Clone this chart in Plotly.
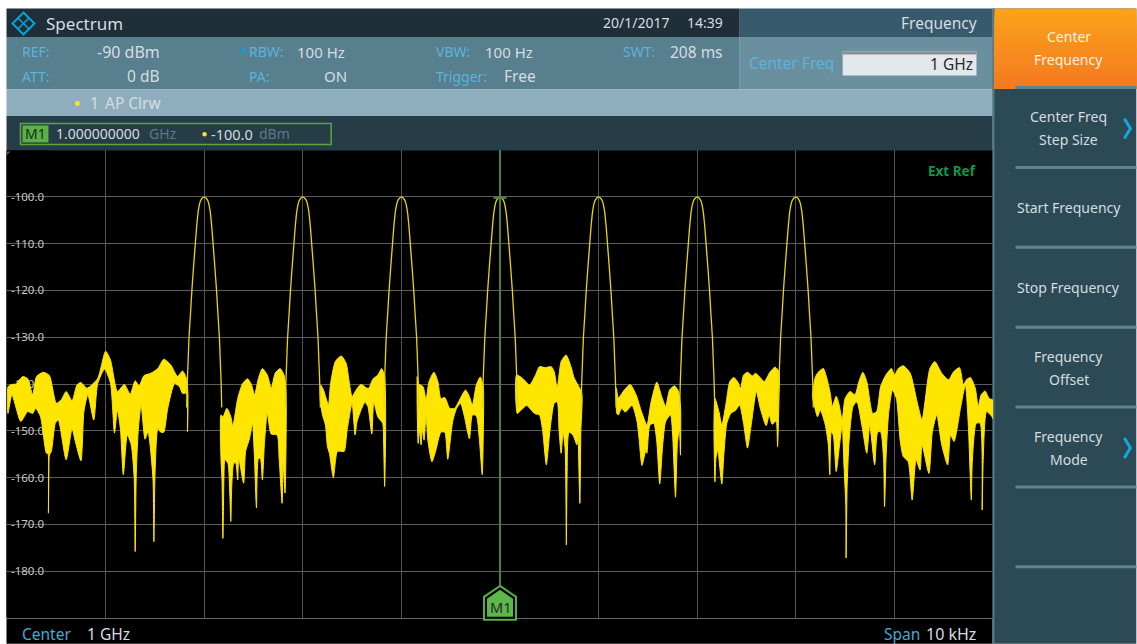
import plotly.graph_objects as go

# ---------- data (frequency offset from centre in kHz, level in dBm) ----------
X_GRID_KHZ = [-4, -3, -2, -1, 0, 1, 2, 3, 4]
Y_TICKS = [-100, -110, -120, -130, -140, -150, -160, -170, -180]
Y_TICK_LABELS = ["-100.0", "-110.0", "-120.0", "-130.0", "-140.0", "-150.0", "-160.0", "-170.0", "-180.0"]
PEAK_CENTRES = [-3, -2, -1, 0, 1, 2, 3]
PEAK_DX = [0, .02, .04, .06, .075, .09, .108, .125, .139, .154, .163, .172, .178]
PEAK_DB = [-100, -100.3, -101, -103, -106, -110, -115, -120, -125, -130, -135, -140, -145]
MARKER_KHZ = 0

GAP1_TOP = [(-4.99,-140.6),(-4.95,-140.1),(-4.91,-140),(-4.84,-138.4),(-4.79,-138.9),(-4.74,-142.3),(-4.70,-138.4),(-4.63,-137.5),(-4.57,-138.2),(-4.50,-144.1),(-4.45,-143.4),(-4.40,-141.6),(-4.34,-143.6),(-4.29,-140.2),(-4.25,-139.7),(-4.19,-140.9),(-4.08,-138.8),(-4.00,-133),(-3.95,-134.9),(-3.88,-141.6),(-3.81,-140.1),(-3.75,-142.2),(-3.70,-139.3),(-3.66,-140.4),(-3.61,-138.2),(-3.54,-137.7),(-3.47,-136.7),(-3.41,-134.7),(-3.34,-135.9),(-3.27,-138.4),(-3.22,-137.2),(-3.18,-138.8)]
GAP1_BOT = [(-4.99,-146.3),(-4.95,-142.3),(-4.86,-148),(-4.79,-145.9),(-4.74,-146.3),(-4.71,-145.2),(-4.66,-147),(-4.60,-154.8),(-4.585,-154.8),(-4.58,-167.6),(-4.57,-155.2),(-4.55,-154.4),(-4.51,-148.4),(-4.48,-147.7),(-4.40,-156.2),(-4.34,-149.5),(-4.31,-152),(-4.25,-156.4),(-4.22,-145.9),(-4.18,-142.3),(-4.12,-147.7),(-4.08,-139.9),(-4.01,-136.8),(-3.95,-139.9),(-3.91,-150.5),(-3.88,-145.6),(-3.85,-149.5),(-3.82,-159.4),(-3.78,-150.9),(-3.74,-153),(-3.71,-160.1),(-3.70,-175.8),(-3.69,-160.1),(-3.67,-150.2),(-3.64,-144.5),(-3.60,-151.8),(-3.57,-150.2),(-3.52,-160.1),(-3.51,-173.7),(-3.50,-160.1),(-3.47,-149.5),(-3.44,-150.3),(-3.41,-150.3),(-3.37,-145.2),(-3.30,-139.9),(-3.25,-140.6),(-3.22,-142),(-3.18,-142),(-3.17,-150.2),(-3.165,-142)]
GAP2_TOP = [(-2.83,-146.6),(-2.81,-147),(-2.77,-145.2),(-2.73,-147),(-2.71,-149),(-2.66,-143.1),(-2.61,-139.9),(-2.56,-138.9),(-2.52,-140.2),(-2.49,-142.3),(-2.45,-138.8),(-2.41,-136.7),(-2.36,-138.1),(-2.32,-140.9),(-2.28,-137.7),(-2.23,-136.7),(-2.19,-138.1),(-2.17,-141.6)]
GAP2_BOT = [(-2.83,-155.9),(-2.82,-160.1),(-2.81,-173),(-2.80,-160.1),(-2.79,-156.2),(-2.76,-156.9),(-2.74,-163.7),(-2.73,-169.4),(-2.72,-161.6),(-2.70,-156.9),(-2.68,-156.9),(-2.66,-160.5),(-2.65,-155.9),(-2.60,-161.2),(-2.58,-154.4),(-2.54,-151.6),(-2.51,-148.4),(-2.49,-155.9),(-2.47,-166.5),(-2.45,-155.9),(-2.43,-155.9),(-2.41,-160.5),(-2.39,-153),(-2.36,-146.3),(-2.32,-150.7),(-2.26,-150.9),(-2.24,-155.9),(-2.21,-165.5),(-2.20,-156.9),(-2.18,-163.3),(-2.17,-153)]
GAP3_TOP = [(-1.82,-140.2),(-1.79,-141.3),(-1.74,-144.5),(-1.72,-140.2),(-1.67,-135.2),(-1.61,-134),(-1.56,-135.6),(-1.53,-139.5),(-1.50,-142.7),(-1.46,-141.3),(-1.41,-140.1),(-1.35,-140.9),(-1.33,-140.9),(-1.29,-139),(-1.24,-138.1),(-1.20,-136.7),(-1.17,-138.4)]
GAP3_BOT = [(-1.82,-144),(-1.80,-146.6),(-1.77,-148.8),(-1.75,-153.4),(-1.73,-154.8),(-1.69,-160),(-1.65,-154.4),(-1.61,-154.4),(-1.58,-154.4),(-1.55,-149.8),(-1.50,-144.1),(-1.47,-150.9),(-1.45,-148),(-1.41,-145.6),(-1.37,-143.9),(-1.34,-144.8),(-1.30,-150.7),(-1.28,-143.8),(-1.24,-147),(-1.19,-148.4),(-1.18,-153),(-1.17,-161.9),(-1.16,-150.2)]
GAP4_TOP = [(-0.84,-138.4),(-0.83,-139.9),(-0.78,-140.6),(-0.75,-143.4),(-0.72,-139.5),(-0.67,-137.5),(-0.63,-139.5),(-0.60,-143.1),(-0.56,-142.9),(-0.51,-145.2),(-0.46,-145.2),(-0.41,-143.4),(-0.35,-141.3),(-0.31,-142.7),(-0.28,-144.5),(-0.24,-140.2),(-0.20,-138.5),(-0.17,-140.6)]
GAP4_BOT = [(-0.84,-145),(-0.83,-152.7),(-0.82,-149.5),(-0.80,-153),(-0.79,-149.5),(-0.77,-152),(-0.75,-146.6),(-0.73,-152.3),(-0.69,-156.6),(-0.65,-154.1),(-0.60,-150.3),(-0.56,-150.3),(-0.53,-156.1),(-0.48,-148),(-0.44,-145.2),(-0.40,-144.1),(-0.36,-147),(-0.31,-151.7),(-0.28,-146.6),(-0.24,-146.8),(-0.21,-151.6),(-0.18,-159.4),(-0.17,-150.9)]
GAP5_TOP = [(0.168,-138.1),(0.23,-138.8),(0.30,-140.2),(0.36,-138.1),(0.40,-136.3),(0.46,-136.5),(0.52,-136.3),(0.55,-137.4),(0.58,-140.9),(0.62,-135.2),(0.67,-133.8),(0.72,-136.3),(0.75,-138.6),(0.79,-140.2),(0.83,-142)]
GAP5_BOT = [(0.175,-146.3),(0.20,-145.9),(0.27,-144.6),(0.35,-146.3),(0.40,-146.6),(0.43,-149.5),(0.47,-157.3),(0.505,-150.2),(0.55,-144.1),(0.58,-143.8),(0.60,-150.2),(0.62,-154.8),(0.64,-150.3),(0.66,-153.7),(0.667,-160.1),(0.673,-174.4),(0.68,-160.1),(0.70,-150.3),(0.74,-150.9),(0.78,-153),(0.79,-150.5),(0.81,-165.5),(0.82,-150.2)]
GAP6_TOP = [(1.18,-140.9),(1.20,-143),(1.26,-141.3),(1.32,-140.1),(1.38,-142.3),(1.43,-145.6),(1.49,-148.8),(1.53,-144.1),(1.59,-139.6),(1.64,-142.7),(1.68,-144.8),(1.72,-141.3),(1.77,-140.4),(1.81,-141.6),(1.83,-144.5)]
GAP6_BOT = [(1.185,-146.3),(1.20,-146.6),(1.235,-145.2),(1.27,-146),(1.34,-144.6),(1.39,-148),(1.41,-151.6),(1.44,-157.4),(1.48,-154.1),(1.49,-154.8),(1.52,-148.8),(1.56,-148.4),(1.59,-152.3),(1.62,-161.4),(1.65,-153),(1.68,-148),(1.73,-146.6),(1.75,-150.5),(1.78,-164.2),(1.80,-152.3),(1.82,-149.8),(1.83,-155.2),(1.833,-145.9)]
GAP7_TOP = [(2.18,-143.1),(2.22,-145.9),(2.25,-148.8),(2.29,-144.5),(2.33,-139.5),(2.37,-138.6),(2.41,-139.5),(2.44,-140.9),(2.47,-138.1),(2.51,-137.5),(2.56,-138.3),(2.59,-137.7),(2.63,-138.4),(2.68,-139.5),(2.74,-137.4),(2.79,-136.4),(2.83,-137.4)]
GAP7_BOT = [(2.17,-149.5),(2.18,-160.9),(2.19,-155.9),(2.21,-154.1),(2.23,-158),(2.25,-161.4),(2.27,-155.2),(2.30,-148.4),(2.34,-146.3),(2.39,-145.6),(2.43,-144.5),(2.47,-148.4),(2.51,-153.7),(2.55,-148.4),(2.60,-141.6),(2.64,-145.2),(2.70,-148.9),(2.73,-146.6),(2.76,-148.6),(2.80,-147.9),(2.815,-153.4),(2.83,-142.3)]
GAP8_TOP = [(3.169,-142.3),(3.20,-138.4),(3.24,-137.2),(3.28,-136.7),(3.31,-138.4),(3.35,-142),(3.37,-144.8),(3.41,-142.6),(3.44,-144.5),(3.47,-147.7),(3.50,-143.1),(3.55,-141.6),(3.60,-142.3),(3.64,-139.5),(3.68,-137.5),(3.72,-139.5),(3.78,-146.3),(3.82,-145.9),(3.86,-140.6),(3.91,-138.2),(3.97,-136.7),(4.00,-138.1),(4.04,-136.7),(4.09,-136.1),(4.16,-137.7),(4.23,-143.8),(4.28,-147.7),(4.31,-143.8),(4.36,-136.7),(4.41,-135.2),(4.48,-137.7),(4.55,-139.1),(4.60,-137.4),(4.66,-136.5),(4.70,-140.2),(4.73,-139.1),(4.77,-138.6),(4.82,-140.9),(4.85,-144.8),(4.88,-142.3),(4.92,-141.5),(4.96,-143.1),(4.997,-143.4)]
GAP8_BOT = [(3.169,-142.7),(3.19,-144.8),(3.22,-147),(3.25,-145.6),(3.30,-148.8),(3.33,-153),(3.345,-159.4),(3.36,-150.2),(3.38,-150.9),(3.41,-158.7),(3.44,-153.7),(3.47,-148.8),(3.49,-158),(3.507,-165.8),(3.51,-177.2),(3.52,-162.3),(3.54,-152.3),(3.58,-144.8),(3.62,-143.8),(3.67,-148.8),(3.72,-154.8),(3.75,-148.8),(3.80,-157.3),(3.83,-150.3),(3.86,-150.2),(3.89,-155.9),(3.90,-166.2),(3.915,-155.9),(3.94,-146.6),(3.98,-141.3),(4.02,-143.1),(4.06,-152.3),(4.09,-155.5),(4.14,-156.6),(4.18,-164.8),(4.22,-156.2),(4.26,-158.4),(4.28,-153),(4.35,-159.1),(4.385,-150.2),(4.43,-146.6),(4.48,-153),(4.54,-157.3),(4.57,-150.9),(4.605,-152.3),(4.67,-145.2),(4.72,-140.2),(4.75,-148.8),(4.77,-160.1),(4.78,-164.8),(4.79,-156.6),(4.83,-148.4),(4.87,-148.4),(4.89,-166.9),(4.90,-156.6),(4.935,-145.9),(4.99,-147),(4.997,-147.4)]

GAPS = [(GAP1_TOP, GAP1_BOT), (GAP2_TOP, GAP2_BOT), (GAP3_TOP, GAP3_BOT), (GAP4_TOP, GAP4_BOT),
        (GAP5_TOP, GAP5_BOT), (GAP6_TOP, GAP6_BOT), (GAP7_TOP, GAP7_BOT), (GAP8_TOP, GAP8_BOT)]

# ---------- layout geometry ----------
W, H = 1137, 644
L, R, T, B = 6.5, 993.5, 149.6, 618.2
FONT = "Noto Sans"
YELLOW = "#FFE600"


def px(x):
    return (x - L) / (R - L)


def py(y):
    return (B - y) / (B - T)


def path(points, close=True):
    s = "M " + " L ".join(f"{px(a):.5f},{py(b):.5f}" for a, b in points)
    return s + (" Z" if close else "")


shapes = []
annots = []


def rect(x0, y0, x1, y1, color, layer="below"):
    shapes.append(dict(type="rect", xref="paper", yref="paper", x0=px(x0), x1=px(x1), y0=py(y0), y1=py(y1),
                       fillcolor=color, line=dict(width=0), layer=layer))


def poly(points, fill=None, line=None, width=1, close=True, layer="above"):
    shapes.append(dict(type="path", xref="paper", yref="paper", path=path(points, close),
                       fillcolor=fill if fill else "rgba(0,0,0,0)",
                       line=dict(color=line if line else "rgba(0,0,0,0)", width=width if line else 0), layer=layer))


def text(s, x, y, anchor="left", size=14, color="#d5dde0", weight=None):
    annots.append(dict(text=s, xref="paper", yref="paper", x=px(x), y=py(y), xanchor=anchor, yanchor="middle",
                       showarrow=False, borderpad=0, borderwidth=0,
                       font=dict(family=FONT, size=size, color=color, weight=weight)))


# panels
rect(6, 8, 740, 36.5, "#1f2f38")
rect(740, 8, 993, 36.5, "#365a6b")
rect(6, 36.5, 740, 89, "#587f8e")
rect(740, 36.5, 993, 89, "#6a909f")
rect(6, 89, 993, 115.5, "#8eaebd")
rect(6, 115.5, 993, 150, "#263c46")
rect(6, 150, 7, 618, "#000000")
rect(6, 618.2, 993, 644, "#000000")
rect(993, 8, 1137, 644, "#2b4a56")
rect(993, 8, 995, 644, "#4f7a8a")
# orange soft key gradient: each band overlaps down to the key's lower edge so no seams show
N = 16
for i in range(N):
    t = i / (N - 1)
    c = (round(251 - 7 * t), round(162 - 40 * t), round(27 + 5 * t))
    rect(995, 8 + 80 * i / N, 1137, 88, f"rgb{c}")
for sy in [87, 167, 247, 327, 407, 487, 567]:
    rect(1016, sy - 1.5, 1137, sy + 1.5, "#5e8490")
# black mask behind the level labels
rect(6, 150, 49, 618, "#000000", layer="between")

# logo
poly([(23, 12), (34, 23), (23, 34), (12, 23)], line="#0d9fd8", width=2)
poly([(17.5, 17.5), (28.5, 28.5)], line="#0d9fd8", width=1.5, close=False)
poly([(28.5, 17.5), (17.5, 28.5)], line="#0d9fd8", width=1.5, close=False)

BLUE = "#5ab4dc"
text("Spectrum", 46, 22.5, size=17)
text("20/1/2017", 603, 22, size=14)
text("14:39", 687, 22, size=14)
text("Frequency", 977, 22.5, "right", size=15.5)
text("REF:", 22, 51, color=BLUE)
text("-90 dBm", 160, 51, "right", size=16)
text("RBW:", 249, 51, color=BLUE)
text("100 Hz", 297, 51, size=15)
text("VBW:", 436, 51, color=BLUE)
text("100 Hz", 485, 51, size=15)
text("SWT:", 623, 51, color=BLUE)
text("208 ms", 723, 51, "right", size=15.5)
text("ATT:", 22, 76, color=BLUE)
text("0 dB", 160, 76, "right", size=15.5)
text("PA:", 249, 76, color=BLUE)
text("ON", 347, 76, "right", size=15)
text("Trigger:", 436, 76, color=BLUE)
text("Free", 504, 76, size=15.5)
shapes.append(dict(type="circle", xref="paper", yref="paper", x0=px(240.5), x1=px(245.5), y0=py(48), y1=py(53),
                   fillcolor="#0d9fd8", line=dict(width=0), layer="above"))
text("Center Freq", 749, 62, size=15.5, color=BLUE)
rect(843, 51, 977, 75, "#e2e8eb", layer="above")
rect(843, 51, 977, 54, "#8c8f91", layer="above")
text("1 GHz", 973, 63, "right", size=15.5, color="#2a2a2a")

# trace / marker lines
shapes.append(dict(type="circle", xref="paper", yref="paper", x0=px(74.5), x1=px(79.5), y0=py(100.5), y1=py(105.5),
                   fillcolor="#ffe030", line=dict(width=0), layer="above"))
text("1", 90, 102.5, size=15.5)
text("AP Clrw", 105, 102.5, size=15.5)
rect(20, 123, 331, 144, "rgba(0,0,0,0)", layer="above")
shapes[-1]["line"] = dict(color="#5aa83c", width=1.5)
rect(22, 125, 48, 142, "#5cb047", layer="above")
text("M1", 35, 133.5, "center", size=14, color="#16301a")
text("1.000000000", 56, 133.5, size=14)
text("GHz", 149, 133.5, size=14, color="#5f7a85")
shapes.append(dict(type="circle", xref="paper", yref="paper", x0=px(202), x1=px(206.5), y0=py(131.5), y1=py(136),
                   fillcolor="#ffe030", line=dict(width=0), layer="above"))
text("-100.0", 211, 133.5, size=14.5)
text("dBm", 259, 133.5, size=14, color="#5f7a85")

# graph annotations
text("Ext Ref", 976, 171, "right", size=13.5, color="#0a9a4a", weight="bold")
text("Center", 22, 634, size=15.5, color="#4aa8d0")
text("1 GHz", 87, 634, size=15.5)
text("Span", 884, 634, size=15.5, color="#4aa8d0")
text("10 kHz", 976, 634, "right", size=16)
poly([(6, 151), (10, 151), (6, 155)], fill="#5a5a5a")

# marker flag
poly([(500, 586), (516, 597), (516, 620), (484, 620), (484, 597)], fill="#000000", line="#55b046", width=2)
poly([(500, 590), (513, 599), (513, 617), (487, 617), (487, 599)], fill="#5cb84a")
text("M1", 500, 607, "center", size=14.5, color="#1c2f1c")
rect(493.5, 196.5, 506.5, 198.5, "#4d8a3d", layer="above")

# soft keys
text("Center", 1069.5, 36, "center", size=14, color="#fff2e0")
text("Frequency", 1069.5, 59, "center", size=14, color="#fff2e0")
text("Center Freq", 1069.5, 116, "center", size=14)
text("Step Size", 1069.5, 139, "center", size=14)
text("Start Frequency", 1069.5, 207.5, "center", size=14)
text("Stop Frequency", 1069.5, 287.5, "center", size=14)
text("Frequency", 1069.5, 356.5, "center", size=14)
text("Offset", 1069.5, 379.5, "center", size=14)
text("Frequency", 1069.5, 436.5, "center", size=14)
text("Mode", 1069.5, 459.5, "center", size=14)
poly([(1125, 118), (1131, 128), (1125, 138)], line="#14a8e0", width=3, close=False)
poly([(1125, 438), (1131, 448), (1125, 458)], line="#14a8e0", width=3, close=False)

# ---------- traces ----------
fig = go.Figure()

band_x, band_y = [], []
for top, bot in GAPS:
    pts = list(top) + list(reversed(bot))
    band_x += [p[0] for p in pts] + [pts[0][0], None]
    band_y += [p[1] for p in pts] + [pts[0][1], None]
fig.add_trace(go.Scatter(x=band_x, y=band_y, mode="lines", fill="toself", fillcolor=YELLOW,
                         line=dict(color=YELLOW, width=1, shape="spline", smoothing=0.6),
                         hoverinfo="skip", showlegend=False))

peak_x, peak_y = [], []
for c in PEAK_CENTRES:
    for dx, db in zip(reversed(PEAK_DX), reversed(PEAK_DB)):
        peak_x.append(c - dx)
        peak_y.append(db)
    for dx, db in zip(PEAK_DX[1:], PEAK_DB[1:]):
        peak_x.append(c + dx)
        peak_y.append(db)
    peak_x.append(None)
    peak_y.append(None)
fig.add_trace(go.Scatter(x=peak_x, y=peak_y, mode="lines",
                         line=dict(color="#e8d60c", width=1.3, shape="spline", smoothing=0.6),
                         hoverinfo="skip", showlegend=False))

fig.add_trace(go.Scatter(x=[MARKER_KHZ, MARKER_KHZ], y=[-90, -186], mode="lines",
                         line=dict(color="#4f7d40", width=2), hoverinfo="skip", showlegend=False))

fig.update_layout(
    width=W, height=H, autosize=False,
    margin=dict(l=L, r=W - R, t=T, b=H - B, pad=0),
    paper_bgcolor="#ffffff", plot_bgcolor="#000000",
    shapes=shapes, annotations=annots, showlegend=False,
    font=dict(family=FONT),
    xaxis=dict(range=[-5, 5], tickmode="array", tickvals=X_GRID_KHZ, showticklabels=False, ticks="",
               showgrid=True, gridcolor="#555555", gridwidth=1, zeroline=False,
               showline=True, linecolor="#666666", linewidth=1, mirror=False, fixedrange=True),
    yaxis=dict(range=[-190, -90], tickmode="array", tickvals=Y_TICKS, ticktext=Y_TICK_LABELS,
               ticklabelposition="inside", ticks="", layer="below traces", ticklabelstandoff=1,
               tickfont=dict(family=FONT, size=11.5, color="#c8c8c8"),
               showgrid=True, gridcolor="#5c5c5c", gridwidth=1, zeroline=False, showline=False, fixedrange=True),
)

fig.write_html("out.html", config=dict(displayModeBar=False),
               post_script="document.body.style.margin='0';")
